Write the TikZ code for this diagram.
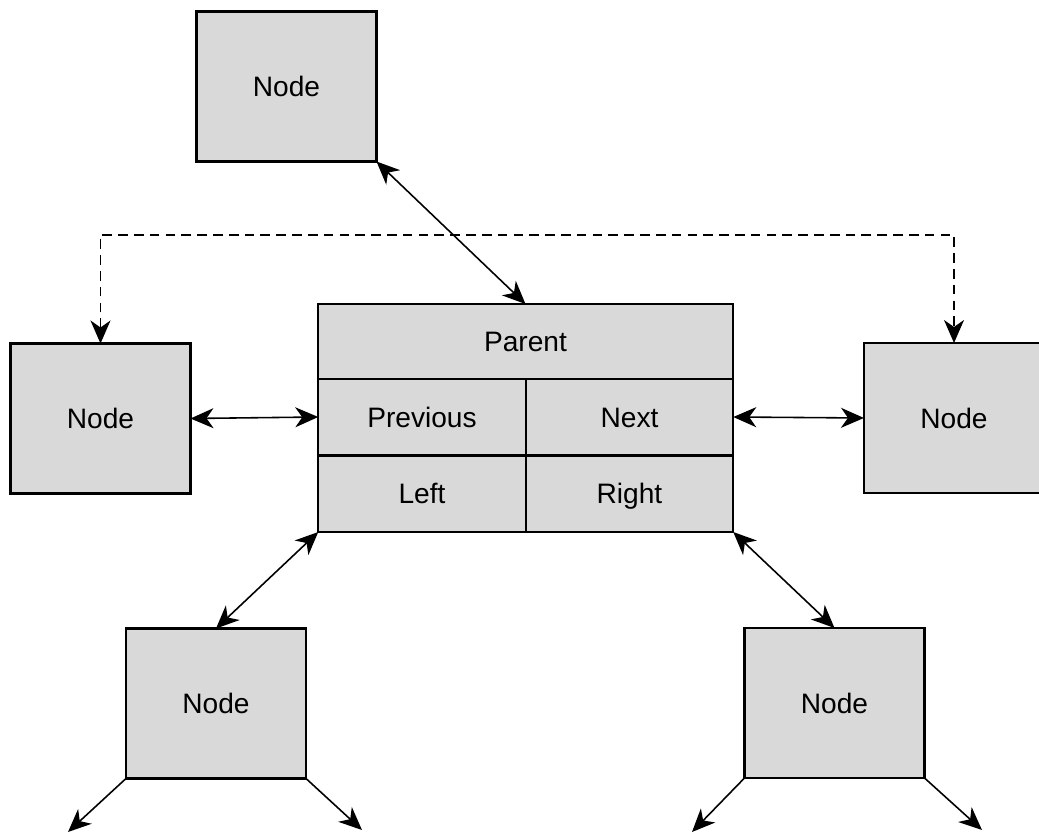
\documentclass[tikz,border=0pt]{standalone}
\usepackage{fontspec}
\setmainfont{Liberation Sans}
\usetikzlibrary{arrows.meta}
\begin{document}
\begin{tikzpicture}[
  box/.style={draw, line width=1.3pt, fill=black!15, inner sep=0pt, outer sep=0pt,
    minimum width=3.6cm, minimum height=3.0cm, text height=11.5pt, text depth=0pt,
    font=\fontsize{16}{19}\selectfont},
  cell/.style={box, minimum width=4.15cm, minimum height=1.53cm},
  link/.style={line width=0.9pt, {Stealth[length=4.6mm,width=4mm,inset=1.4mm]}-{Stealth[length=4.6mm,width=4mm,inset=1.4mm]}},
  outlink/.style={line width=0.9pt, -{Stealth[length=4.6mm,width=4mm,inset=1.4mm]}},
  dashlink/.style={link, dash pattern=on 5.5pt off 3.5pt}]
\useasboundingbox (0,0) rectangle (20.78,-16.72);
\node[box] (top) at (5.73,-1.73) {Node};
\node[box] (lnode) at (2.01,-8.37) {Node};
\node[box] (rnode) at (19.08,-8.36) {Node};
\node[box] (bl) at (4.32,-14.07) {Node};
\node[box] (br) at (16.69,-14.06) {Node};
\node[cell, minimum width=8.3cm, minimum height=1.5cm] (parent) at (10.51,-6.83) {Parent};
\node[cell] (prev) at (8.44,-8.34) {Previous};
\node[cell] (next) at (12.59,-8.34) {Next};
\node[cell] (left) at (8.44,-9.875) {Left};
\node[cell] (right) at (12.59,-9.875) {Right};
\coordinate (ll) at (1.36,-16.64);
\coordinate (lr) at (7.24,-16.6);
\coordinate (rl) at (13.84,-16.64);
\coordinate (rr) at (19.64,-16.6);
\draw[link] (top.south east) -- (parent.north);
\draw[link] (lnode.east) -- (prev.west);
\draw[link] (next.east) -- (rnode.west);
\draw[link] (left.south west) -- (bl.north);
\draw[link] (right.south east) -- (br.north);
\draw[dashlink] (lnode.north) -- (lnode.north |- 0,-4.7) -- (rnode.north |- 0,-4.7) -- (rnode.north);
\draw[outlink] (bl.south west) -- (ll);
\draw[outlink] (bl.south east) -- (lr);
\draw[outlink] (br.south west) -- (rl);
\draw[outlink] (br.south east) -- (rr);
\end{tikzpicture}
\end{document}
